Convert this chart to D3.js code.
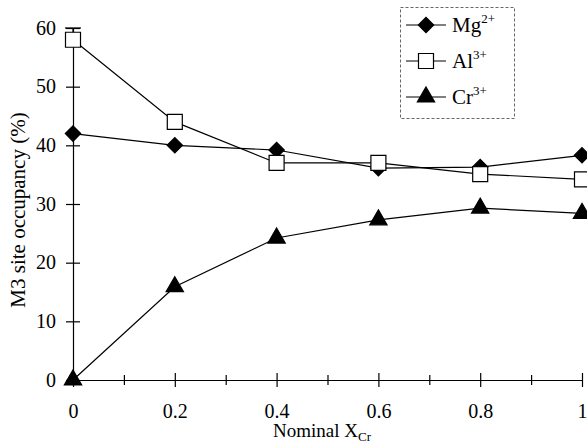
<!DOCTYPE html>
<html lang="en">
<head>
  <meta charset="UTF-8">
  <title>M3 site occupancy</title>
  <style>
    body { margin: 0; background: #fff; }
    svg, svg text { font-family: "Liberation Serif", "Times New Roman", Times, "DejaVu Serif", serif; }
  </style>
</head>
<body>
  <div id="chart"></div>
  <script src="https://d3js.org/d3.v7.min.js"></script>
  <script>
    // data
    const xCr = [0, 0.2, 0.4, 0.6, 0.8, 1];
    const mg = [42, 40, 39.2, 36.1, 36.3, 38.3];
    const al = [58, 44, 37, 37, 35.1, 34.2];
    const cr = [0, 15.9, 24.2, 27.3, 29.3, 28.4];
    const alErrUp = [2, 0, 0, 0, 0, 0];
    const xTicks = [0, 0.2, 0.4, 0.6, 0.8, 1];
    const xMinorTicks = [0.1, 0.3, 0.5, 0.7, 0.9];
    const yTicks = [0, 10, 20, 30, 40, 50, 60];

    const width = 587, height = 445;
    const serif = '"Liberation Serif", "Times New Roman", Times, "DejaVu Serif", serif';

    const svg = d3.select("#chart").append("svg")
      .attr("width", width)
      .attr("height", height)
      .attr("font-family", serif);

    const x = d3.scaleLinear().domain([0, 1]).range([73, 582]);
    const y = d3.scaleLinear().domain([0, 60]).range([380, 28]);

    // y axis, ticks cross the axis line
    const yAxis = svg.append("g")
      .attr("transform", `translate(${x(0)},0)`)
      .call(d3.axisLeft(y).tickValues(yTicks).tickSize(7).tickSizeOuter(0));
    yAxis.attr("font-family", serif).attr("font-size", 20);
    yAxis.selectAll(".tick line").attr("x1", 7);
    yAxis.selectAll("text")
      .attr("x", -17)
      .attr("dy", "0.3em");

    // x axis
    const xAxis = svg.append("g")
      .attr("transform", `translate(0,${y(0)})`)
      .call(d3.axisBottom(x).tickValues(xTicks).tickFormat(d3.format("")).tickSize(7).tickSizeOuter(0));
    xAxis.attr("font-family", serif).attr("font-size", 20);
    xAxis.selectAll(".tick line").attr("y1", -7);
    xAxis.selectAll("text").attr("y", 24);

    const xMinor = svg.append("g")
      .attr("transform", `translate(0,${y(0)})`)
      .call(d3.axisBottom(x).tickValues(xMinorTicks).tickFormat("").tickSize(5).tickSizeOuter(0));
    xMinor.select(".domain").remove();
    xMinor.selectAll(".tick line").attr("y1", -5);

    svg.selectAll(".domain, .tick line").attr("stroke", "#000").attr("stroke-width", 1.2);

    // axis titles
    svg.append("text")
      .attr("transform", `translate(25,${(y(0) + y(60)) / 2 + 6}) rotate(-90)`)
      .attr("text-anchor", "middle")
      .attr("font-size", 21)
      .text("M3 site occupancy (%)");

    const xt = svg.append("text")
      .attr("x", 322)
      .attr("y", 437)
      .attr("text-anchor", "middle")
      .attr("font-size", 19);
    xt.append("tspan").text("Nominal X");
    xt.append("tspan").attr("dy", 4).attr("font-size", 13).text("Cr");

    const series = [
      { name: "Mg", sup: "2+", values: mg, shape: "diamond" },
      { name: "Al", sup: "3+", values: al, shape: "square" },
      { name: "Cr", sup: "3+", values: cr, shape: "triangle" }
    ];

    function marker(shape) {
      if (shape === "diamond") return d3.symbol(d3.symbolSquare, 118)();
      if (shape === "square") return d3.symbol(d3.symbolSquare, 225)();
      return d3.symbol(d3.symbolTriangle, 130)();
    }
    function markerRot(shape) { return shape === "diamond" ? " rotate(45)" : ""; }
    function markerFill(shape) { return shape === "square" ? "#fff" : "#000"; }

    const line = d3.line().x((d, i) => x(xCr[i])).y(d => y(d));

    // error bar on Al at X=0
    al.forEach((v, i) => {
      if (alErrUp[i] > 0) {
        svg.append("line")
          .attr("x1", x(xCr[i])).attr("x2", x(xCr[i]))
          .attr("y1", y(v)).attr("y2", y(v + alErrUp[i]))
          .attr("stroke", "#000").attr("stroke-width", 1.2);
        svg.append("line")
          .attr("x1", x(xCr[i]) - 8).attr("x2", x(xCr[i]) + 8)
          .attr("y1", y(v + alErrUp[i])).attr("y2", y(v + alErrUp[i]))
          .attr("stroke", "#000").attr("stroke-width", 1.2);
      }
    });

    series.forEach(s => {
      svg.append("path")
        .datum(s.values)
        .attr("d", line)
        .attr("fill", "none")
        .attr("stroke", "#000")
        .attr("stroke-width", 1.2);
    });

    series.forEach(s => {
      svg.append("g").selectAll("path")
        .data(s.values)
        .enter()
        .append("path")
        .attr("d", marker(s.shape))
        .attr("transform", (d, i) => `translate(${x(xCr[i])},${y(d)})` + markerRot(s.shape))
        .attr("fill", markerFill(s.shape))
        .attr("stroke", "#000")
        .attr("stroke-width", 1.2);
    });

    // legend
    svg.append("rect")
      .attr("x", 400.5).attr("y", 7.5)
      .attr("width", 114).attr("height", 111)
      .attr("fill", "#fff")
      .attr("stroke", "#666")
      .attr("stroke-width", 1)
      .attr("stroke-dasharray", "3,2");

    const legendY = [25, 61, 97];
    series.forEach((s, i) => {
      const g = svg.append("g").attr("transform", `translate(0,${legendY[i]})`);
      g.append("line")
        .attr("x1", 406).attr("x2", 446)
        .attr("stroke", "#000").attr("stroke-width", 1.2);
      g.append("path")
        .attr("d", marker(s.shape))
        .attr("transform", "translate(426,0)" + markerRot(s.shape))
        .attr("fill", markerFill(s.shape))
        .attr("stroke", "#000")
        .attr("stroke-width", 1.2);
      const t = g.append("text")
        .attr("x", 452)
        .attr("y", 7)
        .attr("font-size", 21);
      t.append("tspan").text(s.name);
      t.append("tspan").attr("dy", -9).attr("font-size", 13).text(s.sup);
    });
  </script>
</body>
</html>
